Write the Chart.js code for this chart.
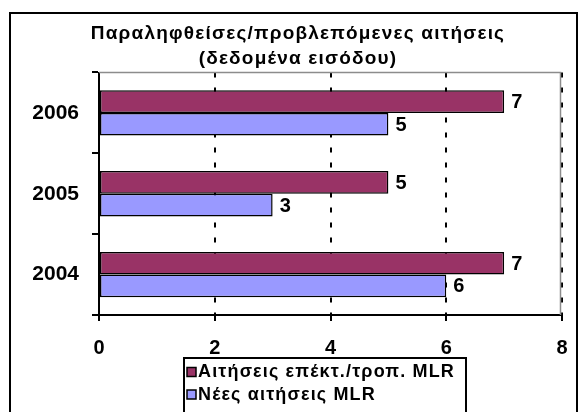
<!DOCTYPE html>
<html>
<head>
<meta charset="utf-8">
<script src="https://cdn.jsdelivr.net/npm/chart.js@4"></script>
<style>
  html, body { margin: 0; padding: 0; background: #fff; }
  canvas { display: block; }
</style>
</head>
<body>
<canvas id="c" width="580" height="412"></canvas>
<script>
// Chart data
const years = ['2006', '2005', '2004'];
const extensionRequests = [7, 5, 7];
const newRequests = [5, 3, 6];
const xTickValues = [0, 2, 4, 6, 8];
const seriesNames = ['Αιτήσεις επέκτ./τροπ. MLR', 'Νέες αιτήσεις MLR'];
const titleLines = ['Παραληφθείσες/προβλεπόμενες αιτήσεις', '(δεδομένα εισόδου)'];

const FONT = '"Liberation Sans", Arial, Helvetica, sans-serif';
const MAROON = '#993366';
const LAVENDER = '#9999FF';

// Outer frame and two-line title
const framePlugin = {
  id: 'frame',
  beforeDraw(chart) {
    const ctx = chart.ctx;
    ctx.save();
    ctx.fillStyle = '#fff';
    ctx.fillRect(0, 0, chart.width, chart.height);
    ctx.strokeStyle = '#000';
    ctx.lineWidth = 2;
    ctx.strokeRect(10, 13, 567, 430);
    ctx.fillStyle = '#000';
    ctx.font = 'bold 19px ' + FONT;
    ctx.letterSpacing = '1.2px';
    ctx.textAlign = 'center';
    ctx.textBaseline = 'middle';
    ctx.fillText(titleLines[0], 298, 34);
    ctx.fillText(titleLines[1], 298, 59);
    ctx.restore();
  }
};

// Grey plot-area edge on top and right
const plotEdgePlugin = {
  id: 'plotEdge',
  beforeDatasetsDraw(chart) {
    const { ctx, chartArea: a } = chart;
    ctx.save();
    ctx.strokeStyle = '#8c8c8c';
    ctx.lineWidth = 1.5;
    ctx.beginPath();
    ctx.moveTo(a.left, a.top);
    ctx.lineTo(a.right - 1.5, a.top);
    ctx.lineTo(a.right - 1.5, a.bottom);
    ctx.stroke();
    ctx.restore();
  }
};

// Value labels at the end of each bar
const valueLabelPlugin = {
  id: 'valueLabels',
  afterDatasetsDraw(chart) {
    const ctx = chart.ctx;
    ctx.save();
    ctx.fillStyle = '#000';
    ctx.font = 'bold 20px ' + FONT;
    ctx.textAlign = 'left';
    ctx.textBaseline = 'middle';
    chart.data.datasets.forEach((ds, i) => {
      chart.getDatasetMeta(i).data.forEach((bar, j) => {
        ctx.fillText(String(ds.data[j]), bar.x + 7, bar.y + 1);
      });
    });
    ctx.restore();
  }
};

// Boxed legend below the axis; the longest entry is spaced to fill the box
const boxLegendPlugin = {
  id: 'boxLegend',
  afterDraw(chart) {
    const ctx = chart.ctx;
    const box = { x: 184, y: 358, w: 282, h: 70 };
    const textX = 198;
    const textRight = box.x + box.w - 11;
    ctx.save();
    ctx.strokeStyle = '#000';
    ctx.lineWidth = 2;
    ctx.strokeRect(box.x, box.y, box.w, box.h);
    ctx.font = 'bold 18px ' + FONT;
    ctx.letterSpacing = '0px';
    const labels = chart.data.datasets.map(ds => ds.label);
    const longest = labels.reduce((a, b) => (b.length > a.length ? b : a));
    const natural = ctx.measureText(longest).width;
    const spacing = Math.max(0, (textRight - textX - natural) / longest.length);
    ctx.letterSpacing = spacing.toFixed(2) + 'px';
    ctx.textAlign = 'left';
    ctx.textBaseline = 'middle';
    chart.data.datasets.forEach((ds, i) => {
      const cy = 372.5 + i * 22.5;
      ctx.fillStyle = ds.backgroundColor;
      ctx.fillRect(187, cy - 5, 9, 9);
      ctx.lineWidth = 1.5;
      ctx.strokeRect(187, cy - 5, 9, 9);
      ctx.fillStyle = '#000';
      ctx.fillText(ds.label, textX, cy);
    });
    ctx.restore();
  }
};

new Chart(document.getElementById('c'), {
  type: 'bar',
  data: {
    labels: years,
    datasets: [
      {
        label: seriesNames[0],
        data: extensionRequests,
        backgroundColor: MAROON,
        borderColor: '#000',
        borderWidth: 1.5,
        borderSkipped: false
      },
      {
        label: seriesNames[1],
        data: newRequests,
        backgroundColor: LAVENDER,
        borderColor: '#000',
        borderWidth: 1.5,
        borderSkipped: false
      }
    ]
  },
  options: {
    indexAxis: 'y',
    responsive: false,
    animation: false,
    devicePixelRatio: 1,
    categoryPercentage: 0.56,
    barPercentage: 1,
    layout: { padding: { top: 72.5, right: 18, left: 0, bottom: 0 } },
    plugins: {
      legend: { display: false },
      title: { display: false },
      tooltip: { enabled: false }
    },
    scales: {
      x: {
        type: 'linear',
        position: 'bottom',
        min: 0,
        max: 8,
        afterBuildTicks(scale) { scale.ticks = xTickValues.map(v => ({ value: v })); },
        afterFit(scale) {
          scale.height = 97;
          scale.paddingLeft = 0;
          scale.paddingRight = 0;
        },
        ticks: {
          color: '#000',
          font: { family: FONT, size: 20, weight: 'bold' },
          padding: 15
        },
        grid: {
          color: c => (c.tick && c.tick.value === 0) ? 'rgba(0,0,0,0)' : '#000',
          lineWidth: 2,
          tickLength: 6,
          tickColor: '#000',
          tickWidth: 2
        },
        border: { display: true, color: '#000', width: 2, dash: [5, 10] }
      },
      y: {
        afterFit(scale) { scale.width = 99; },
        ticks: {
          color: '#000',
          font: { family: FONT, size: 21, weight: 'bold' },
          padding: 13
        },
        grid: {
          offset: true,
          drawOnChartArea: false,
          color: '#000',
          lineWidth: 2,
          tickLength: 7
        },
        border: { display: true, color: '#000', width: 2 }
      }
    }
  },
  plugins: [framePlugin, plotEdgePlugin, valueLabelPlugin, boxLegendPlugin]
});
</script>
</body>
</html>
